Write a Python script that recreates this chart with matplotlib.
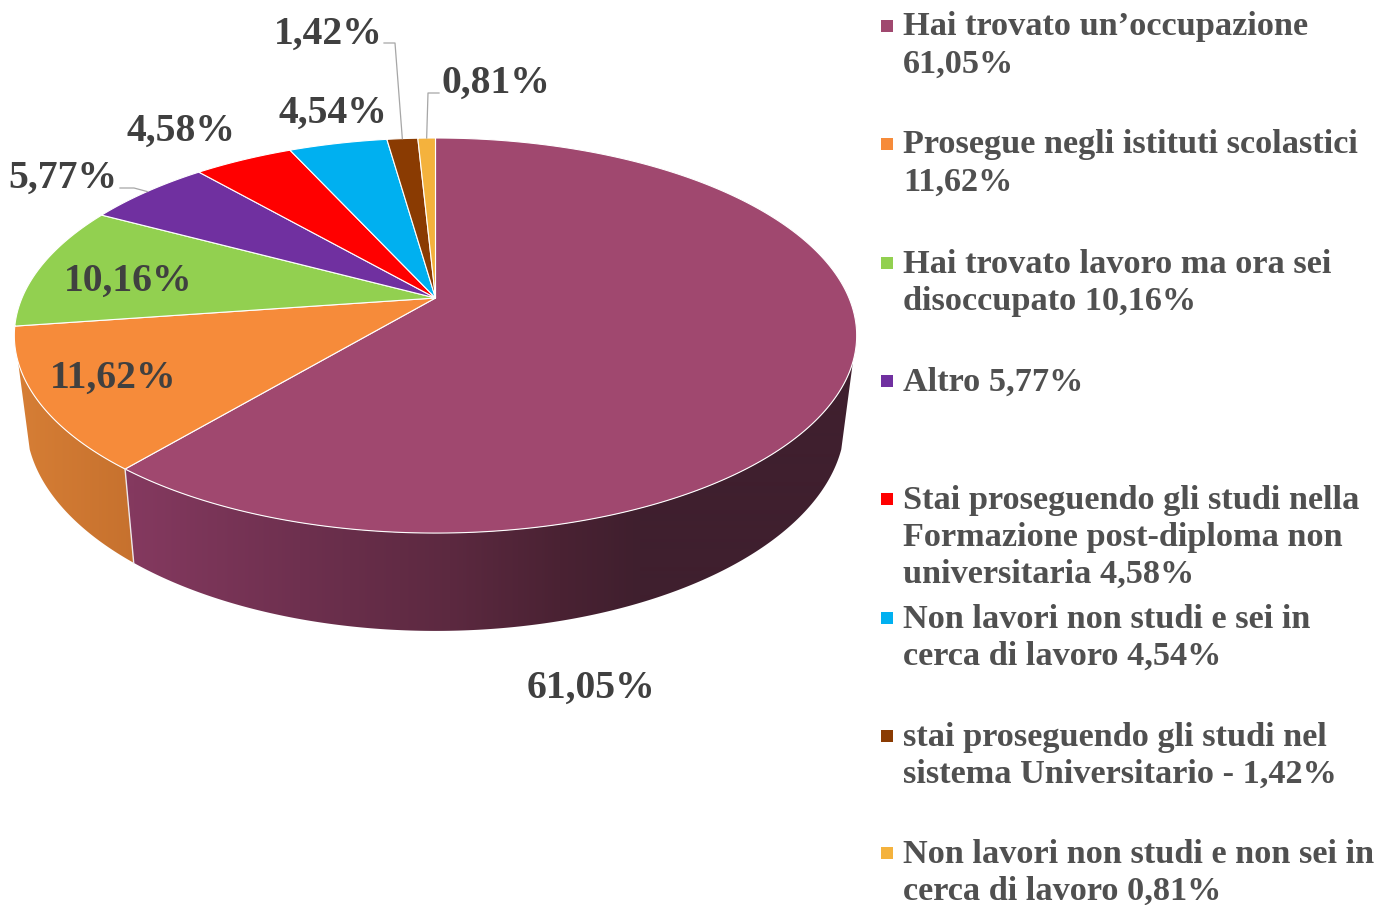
import matplotlib
matplotlib.use('Agg')
import matplotlib.pyplot as plt
import numpy as np
from matplotlib.colors import to_rgb
from matplotlib.patches import Polygon

values = [61.05, 11.62, 10.16, 5.77, 4.58, 4.54, 1.42, 0.81]
value_labels = ['61,05%', '11,62%', '10,16%', '5,77%', '4,58%', '4,54%', '1,42%', '0,81%']
colors = ['#A0486F', '#F68B3A', '#92D050', '#7030A0', '#FF0000', '#00B0F0', '#8A3B02', '#F4B23D']
legend_lines = [
    ['Hai trovato un’occupazione', '61,05%'],
    ['Prosegue negli istituti scolastici', '11,62%'],
    ['Hai trovato lavoro ma ora sei', 'disoccupato 10,16%'],
    ['Altro 5,77%'],
    ['Stai proseguendo gli studi nella', 'Formazione post-diploma non', 'universitaria 4,58%'],
    ['Non lavori non studi e sei in', 'cerca di lavoro 4,54%'],
    ['stai proseguendo gli studi nel', 'sistema Universitario - 1,42%'],
    ['Non lavori non studi e non sei in', 'cerca di lavoro 0,81%'],
]
legend_y = [25, 143, 262, 380, 498, 617, 735, 852]
label_pos = [(591, 688), (113, 378), (128, 281), (63, 178), (181, 131), (333, 113), (328, 34), (496, 83)]

TEXT = '#404040'
FONT = 'Liberation Serif'

fig = plt.figure(figsize=(13.8, 9.05), dpi=100)
ax = fig.add_axes([0, 0, 1, 1])
ax.set_axis_off()


# disc seen in perspective, angle in degrees clockwise from 12 o'clock
def top(t):
    x, y = np.sin(np.radians(t)), np.cos(np.radians(t))
    return 435.5 + 413.5 * x / (1 + 0.19 * y), 298 - 190.4 * y / (1 + 0.19 * y)


def bottom(t):
    x, y = np.sin(np.radians(t)), np.cos(np.radians(t))
    return 435.5 + 402 * x / (1 + 0.19 * y), 382 - 200 * y / (1 + 0.19 * y) + 2 * y ** 2


edges = np.concatenate([[0], np.cumsum(values)]) / np.sum(values) * 360

# side wall, only the front part is visible
VIS_A, VIS_B = 108.4, 251.6
wall_stops = {
    0: ([134, 300, 450, 560, 640, 860], ['#84395F', '#6E304F', '#5C2940', '#4A2233', '#3F1F2E', '#3F1F2E']),
    1: ([18, 135], ['#D67E35', '#C6712E']),
}
xs = np.arange(0, 1380)
for i, (stops, cols) in wall_stops.items():
    a, b = max(edges[i], VIS_A), min(edges[i + 1], VIS_B)
    t = np.linspace(a, b, 200)
    ux, uy = top(t)
    lx, ly = bottom(t[::-1])
    poly = Polygon(np.column_stack([np.r_[ux, lx], np.r_[uy, ly]]), closed=True, fc='none', ec='none')
    ax.add_patch(poly)
    rgb = np.array([to_rgb(c) for c in cols])
    grad = np.stack([np.interp(xs, stops, rgb[:, k]) for k in range(3)], axis=-1)[None, :, :]
    im = ax.imshow(grad, extent=[0, 1380, 905, 0], aspect='auto', interpolation='bilinear')
    im.set_clip_path(poly)

# white seam between the two wall pieces
px0, py0 = top(edges[1])
px1, py1 = bottom(edges[1])
ax.plot([px0, px1], [py0, py1], color='#EDE6EA', lw=1.0)

# top face
cx, cy = 435.5, 298
for i in range(len(values)):
    t = np.linspace(edges[i], edges[i + 1], 300)
    x, y = top(t)
    pts = np.column_stack([np.r_[cx, x], np.r_[cy, y]])
    ax.add_patch(Polygon(pts, closed=True, fc=colors[i], ec='white', lw=0.8, joinstyle='round'))

# data labels
for (x, y), s in zip(label_pos, value_labels):
    ax.text(x, y, s, ha='center', va='center', fontsize=28.5, fontweight='bold',
            family=FONT, color=TEXT)

# leader lines
mid = (edges[:-1] + edges[1:]) / 2
leaders = {3: [(120, 188), (134, 188)], 6: [(384, 43), (395, 43)], 7: [(439, 93), (428, 93)]}
for i, pts in leaders.items():
    ex, ey = top(mid[i])
    ax.plot([p[0] for p in pts] + [ex], [p[1] for p in pts] + [ey], color='#A6A6A6', lw=0.9)

# legend
for c, lines, y0 in zip(colors, legend_lines, legend_y):
    ax.scatter([887], [y0 + 1], marker='s', s=75, color=c, linewidths=0)
    for k, line in enumerate(lines):
        ax.text(903, y0 + 2 + k * 37, line, ha='left', va='center', fontsize=24.7,
                fontweight='bold', family=FONT, color='#505050')

ax.set_xlim(0, 1380)
ax.set_ylim(905, 0)
fig.savefig('out.png', dpi=100)
